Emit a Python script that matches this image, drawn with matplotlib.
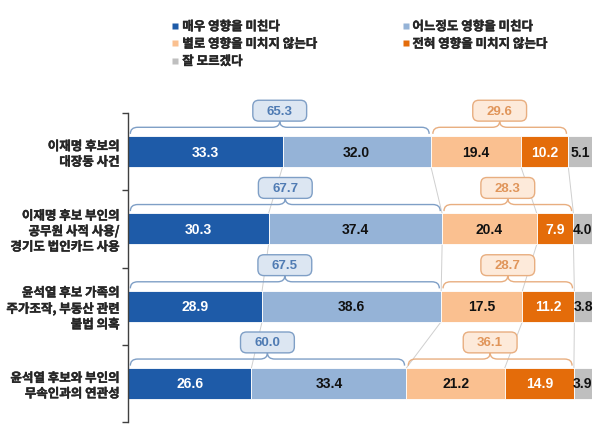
"""Stacked bar chart: perceived influence of candidate issues on voting."""

import matplotlib
matplotlib.use("Agg")
import matplotlib.patheffects as pe
import matplotlib.pyplot as plt
from matplotlib.lines import Line2D
from matplotlib.patches import FancyBboxPatch, PathPatch
from matplotlib.path import Path

plt.rcParams["font.family"] = ["Noto Sans CJK KR", "DejaVu Sans"]

categories = [
    "이재명 후보의\n대장동 사건",
    "이재명 후보 부인의\n공무원 사적 사용/\n경기도 법인카드 사용",
    "윤석열 후보 가족의\n주가조작, 부동산 관련\n불법 의혹",
    "윤석열 후보와 부인의\n무속인과의 연관성",
]
series_names = [
    "매우 영향을 미친다",
    "어느정도 영향을 미친다",
    "별로 영향을 미치지 않는다",
    "전혀 영향을 미치지 않는다",
    "잘 모르겠다",
]
very = [33.3, 30.3, 28.9, 26.6]
some = [32.0, 37.4, 38.6, 33.4]
not_much = [19.4, 20.4, 17.5, 21.2]
not_at_all = [10.2, 7.9, 11.2, 14.9]
dont_know = [5.1, 4.0, 3.8, 3.9]
pos_totals = [65.3, 67.7, 67.5, 60.0]
neg_totals = [29.6, 28.3, 28.7, 36.1]

series = [very, some, not_much, not_at_all, dont_know]
colors = ["#1E5BA8", "#95B3D7", "#FAC090", "#E46C0A", "#BFBFBF"]
text_colors = ["white", "#111111", "#111111", "white", "#111111"]
NUM_FONT = ["Liberation Sans Narrow", "Liberation Sans", "DejaVu Sans"]
LABEL_COLOR = "#262626"
fake_bold = [pe.withStroke(linewidth=0.3, foreground=LABEL_COLOR)]

fig = plt.figure(figsize=(6.02, 4.35), dpi=100)
ax = fig.add_axes([128 / 602, 1 - 423 / 435, 464 / 602, 309 / 435])
ax.set_xlim(0, 100)
ax.set_ylim(4, 0)

y_pos = [i + 0.5 for i in range(len(categories))]
bar_h = 0.4

# cumulative edges per bar
edges = []
for i in range(len(categories)):
    acc = [0.0]
    for s in series:
        acc.append(acc[-1] + s[i])
    edges.append(acc)

# series lines between bars
for i in range(len(categories) - 1):
    for k in range(1, len(series) + 1):
        ax.plot([edges[i][k], edges[i + 1][k]],
                [y_pos[i] + bar_h / 2, y_pos[i + 1] - bar_h / 2],
                color="#CFCFCF", lw=0.7, zorder=1)

for s, (vals, col, tc) in enumerate(zip(series, colors, text_colors)):
    lefts = [e[s] for e in edges]
    ax.barh(y_pos, vals, left=lefts, height=bar_h, color=col,
            edgecolor="white", linewidth=0.6, zorder=2)
    for y, left, v in zip(y_pos, lefts, vals):
        ax.text(left + v / 2, y, f"{v:.1f}", ha="center", va="center",
                color=tc, fontsize=10, fontweight="bold", family=NUM_FONT,
                zorder=3)

px_x = 464 / 100
px_y = 309 / 4
aspect = px_x / px_y


def brace(x0, x1, yc, color):
    r = 1.6
    ye = yc - 0.23
    yh = yc - 0.315
    yp = yc - 0.395
    xm = (x0 + x1) / 2
    verts = [(x0, ye), (x0, yh), (x0 + r, yh), (xm - r, yh), (xm, yh),
             (xm, yp), (xm, yh), (xm + r, yh), (x1 - r, yh), (x1, yh),
             (x1, ye)]
    codes = [Path.MOVETO, Path.CURVE3, Path.CURVE3, Path.LINETO,
             Path.CURVE3, Path.CURVE3, Path.CURVE3, Path.CURVE3,
             Path.LINETO, Path.CURVE3, Path.CURVE3]
    ax.add_patch(PathPatch(Path(verts, codes), facecolor="none",
                           edgecolor=color, lw=1.0, zorder=3,
                           clip_on=False))
    return xm, yp


def label_box(xm, ytop, text, face, edge, tcolor):
    w = 11.6
    h = 0.27
    box = FancyBboxPatch((xm - w / 2, ytop - h), w, h,
                         boxstyle="round,pad=0,rounding_size=1.3",
                         mutation_aspect=aspect, facecolor=face,
                         edgecolor=edge, lw=1.0, zorder=4, clip_on=False)
    ax.add_patch(box)
    ax.text(xm, ytop - h / 2, text, ha="center", va="center", color=tcolor,
            fontsize=9.5, fontweight="bold", family=NUM_FONT, zorder=5,
            clip_on=False)


for i, y in enumerate(y_pos):
    e = edges[i]
    xm, yp = brace(e[0] + 0.5, e[2] - 0.4, y, "#7F9FC6")
    label_box(xm, yp, f"{pos_totals[i]:.1f}", "#DCE6F2", "#7F9FC6", "#4F7BB3")
    xm, yp = brace(e[2] + 0.4, e[4] - 0.4, y, "#E8AE80")
    label_box(xm, yp, f"{neg_totals[i]:.1f}", "#FDEADA", "#E8AE80", "#E0955A")

ax.set_yticks(y_pos, categories)
ax.tick_params(axis="y", which="major", length=0, pad=6, labelsize=9,
               labelcolor=LABEL_COLOR)
for lab in ax.get_yticklabels():
    lab.set_fontweight("bold")
    lab.set_linespacing(1.25)
    lab.set_path_effects(fake_bold)
ax.set_yticks(range(len(categories) + 1), minor=True)
ax.tick_params(axis="y", which="minor", length=4, width=1.0, color="#404040")
ax.set_xticks([])
for side in ["top", "right", "bottom"]:
    ax.spines[side].set_visible(False)
ax.spines["left"].set_color("#404040")
ax.spines["left"].set_linewidth(1.0)

handles = [Line2D([0], [0], marker="s", linestyle="", markersize=4,
                  markerfacecolor=c, markeredgecolor="none") for c in colors]
order = [0, 2, 4, 1, 3]
leg = fig.legend([handles[k] for k in order], [series_names[k] for k in order],
                 ncol=2, loc="upper left", bbox_to_anchor=(161 / 602, 1 - 10 / 435),
                 frameon=False, handlelength=0.5, handletextpad=0.3,
                 columnspacing=6.8, labelspacing=0.35,
                 prop={"size": 9, "weight": "bold"})
for t in leg.get_texts():
    t.set_color(LABEL_COLOR)
    t.set_path_effects(fake_bold)

fig.savefig("out.png", dpi=100)
